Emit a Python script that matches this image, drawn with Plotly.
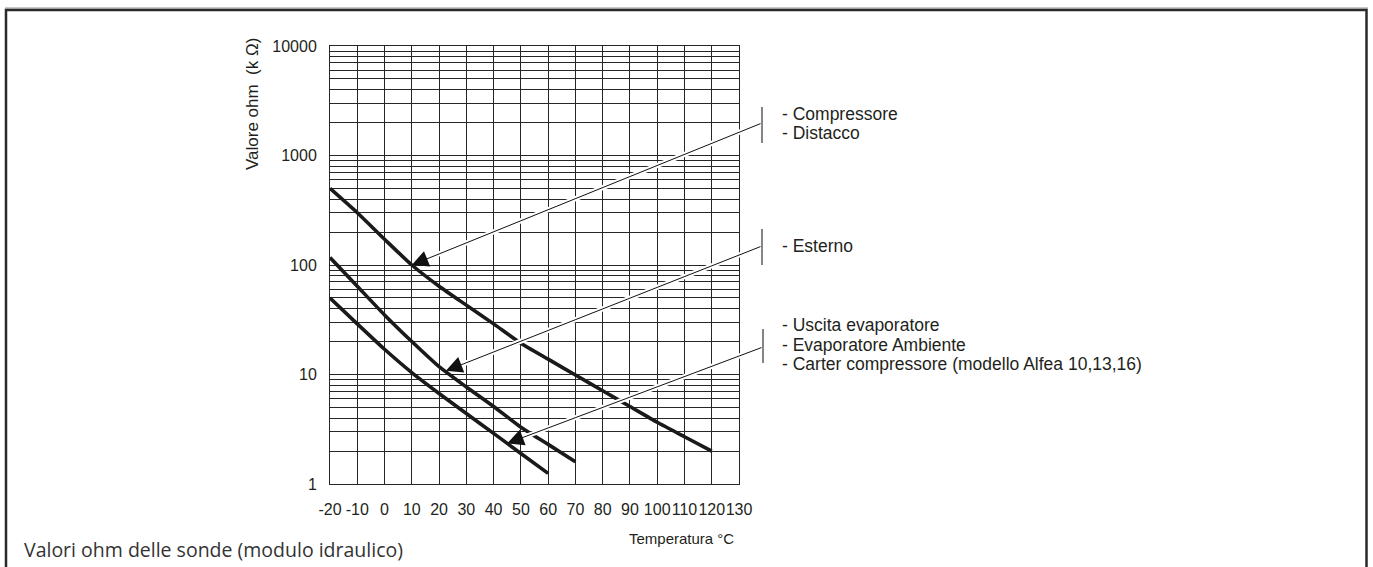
import numpy as np
import plotly.graph_objects as go

# ---------------- data ----------------
temps_compressore = [-20, -10, 0, 10, 20, 30, 40, 50, 60, 70, 80, 90, 100, 110, 120]
ohm_compressore = [500, 300, 172, 100, 64, 43, 29, 19.3, 13.8, 9.9, 7.1, 5.1, 3.66, 2.7, 2.0]

temps_esterno = [-20, -10, 0, 10, 20, 30, 40, 50, 60, 70]
ohm_esterno = [117, 64, 35, 20, 11.8, 7.7, 5.1, 3.3, 2.3, 1.6]

temps_uscita = [-20, -10, 0, 10, 20, 30, 40, 50, 60]
ohm_uscita = [50, 29, 17, 10.4, 6.7, 4.4, 2.9, 1.9, 1.25]

x_tick_values = list(range(-20, 131, 10))
y_decades = [1, 10, 100, 1000, 10000]

group_labels = [
    ["- Compressore", "- Distacco"],
    ["- Esterno"],
    ["- Uscita evaporatore", "- Evaporatore Ambiente",
     "- Carter compressore (modello Alfea 10,13,16)"],
]
# points on the curves the arrows point at (temperature, kOhm)
arrow_targets = [(10, 100), (22.5, 10.8), (45, 2.35)]

y_title = "Valore ohm  (k Ω)"
x_title = "Temperatura °C"
caption = "Valori ohm delle sonde (modulo idraulico)"

# ---------------- layout geometry (pixels) ----------------
FIG_W, FIG_H = 1373, 567
L, R, T, B = 330, 739, 46, 484
PW, PH = R - L, B - T
XMIN, XMAX = -20, 130
YMIN, YMAX = 0, 4  # log10


def px_x(px):
    return (px - L) / PW


def px_y(py):
    return (B - py) / PH


def px_to_data_x(px):
    return XMIN + (px - L) / PW * (XMAX - XMIN)


def py_to_data_logy(py):
    return YMIN + (B - py) / PH * (YMAX - YMIN)


INK = "#231f20"
FONT = "Liberation Sans, Arial, sans-serif"

fig = go.Figure()

for tx, ty in [(temps_compressore, ohm_compressore),
               (temps_esterno, ohm_esterno),
               (temps_uscita, ohm_uscita)]:
    fig.add_trace(go.Scatter(x=tx, y=ty, mode="lines",
                             line=dict(color="#1a1a1a", width=3.6, shape="spline", smoothing=0.6),
                             showlegend=False, hoverinfo="skip"))

# y grid at every 1..9 x 10^k
y_tickvals, y_ticktext = [], []
for e in range(4):
    for m in range(1, 10):
        v = m * 10 ** e
        y_tickvals.append(v)
        y_ticktext.append(str(v) if v in y_decades else "")
y_tickvals.append(10000)
y_ticktext.append("10000")

GRID = "#262626"
fig.update_xaxes(range=[XMIN, XMAX], tickmode="array", tickvals=x_tick_values,
                 ticktext=[str(v) for v in x_tick_values], tickangle=0,
                 showgrid=True, gridcolor=GRID, gridwidth=1, zeroline=False,
                 showline=True, linecolor=GRID, linewidth=1, mirror=True,
                 ticks="", ticklabelstandoff=11,
                 tickfont=dict(family=FONT, size=16, color=INK))
fig.update_yaxes(type="log", range=[YMIN, YMAX], tickmode="array", tickvals=y_tickvals,
                 ticktext=y_ticktext, showgrid=True, gridcolor=GRID, gridwidth=1,
                 zeroline=False, showline=True, linecolor=GRID, linewidth=1, mirror=True,
                 ticks="", ticklabelstandoff=9,
                 tickfont=dict(family=FONT, size=16, color=INK))

annotations = []
shapes = []

# bracket geometry (pixels): x, y_top, y_bottom, junction y, text x, text line ys
brackets = [
    (762, 107, 143, 123, 780, [114, 133]),
    (762, 229, 265, 246, 780, [246]),
    (763, 329, 363, 347, 780, [325, 345, 364]),
]

for (bx, by0, by1, byj, tx0, tys), labels, (at_x, at_v) in zip(brackets, group_labels, arrow_targets):
    shapes.append(dict(type="line", xref="paper", yref="paper",
                       x0=px_x(bx), x1=px_x(bx), y0=px_y(by0), y1=px_y(by1),
                       line=dict(color="#333333", width=1.2)))
    for lab, ty in zip(labels, tys):
        annotations.append(dict(text=lab, xref="paper", yref="paper", x=px_x(tx0), y=px_y(ty),
                                xanchor="left", yanchor="middle", showarrow=False,
                                font=dict(family=FONT, size=17.5, color=INK)))
    tail_x = px_to_data_x(bx)
    tail_y = py_to_data_logy(byj)
    # white halo
    annotations.append(dict(text="", x=at_x, y=np.log10(at_v), xref="x", yref="y",
                            ax=tail_x, ay=tail_y, axref="x", ayref="y",
                            showarrow=True, arrowhead=0, arrowwidth=5, arrowcolor="white",
                            standoff=6))
for (bx, by0, by1, byj, tx0, tys), (at_x, at_v) in zip(brackets, arrow_targets):
    tail_x = px_to_data_x(bx)
    tail_y = py_to_data_logy(byj)
    annotations.append(dict(text="", x=at_x, y=np.log10(at_v), xref="x", yref="y",
                            ax=tail_x, ay=tail_y, axref="x", ayref="y",
                            showarrow=True, arrowhead=2, arrowsize=3.3, arrowwidth=1,
                            arrowcolor="#111111", standoff=0))

# axis titles & caption
annotations.append(dict(text=y_title, xref="paper", yref="paper", x=px_x(252), y=px_y(104),
                        textangle=-90, showarrow=False, xanchor="center", yanchor="middle",
                        font=dict(family=FONT, size=17, color=INK)))
annotations.append(dict(text=x_title, xref="paper", yref="paper", x=px_x(681), y=px_y(538),
                        showarrow=False, xanchor="center", yanchor="middle",
                        font=dict(family=FONT, size=15, color=INK)))
annotations.append(dict(text=caption, xref="paper", yref="paper", x=px_x(22), y=px_y(549),
                        showarrow=False, xanchor="left", yanchor="middle",
                        font=dict(family="Open Sans, Noto Sans, sans-serif", size=19.5, color="#333333")))

# outer frame (open at the bottom)
shapes.append(dict(type="line", xref="paper", yref="paper", x0=px_x(5), x1=px_x(1368),
                   y0=px_y(8), y1=px_y(8), line=dict(color="#b5b5b5", width=1.5)))
shapes.append(dict(type="path", xref="paper", yref="paper",
                   path=f"M {px_x(6)} {px_y(590)} L {px_x(6)} {px_y(10)} L {px_x(1366.5)} {px_y(10)} L {px_x(1366.5)} {px_y(590)}",
                   line=dict(color="#2a2a2a", width=2.5)))

fig.update_layout(width=FIG_W, height=FIG_H,
                  margin=dict(l=L, r=FIG_W - R, t=T, b=FIG_H - B),
                  paper_bgcolor="white", plot_bgcolor="white",
                  annotations=annotations, shapes=shapes, showlegend=False)

fig.write_html("out.html", config={"displayModeBar": False},
               post_script="document.body.style.margin='0px';document.body.style.overflow='hidden';")
